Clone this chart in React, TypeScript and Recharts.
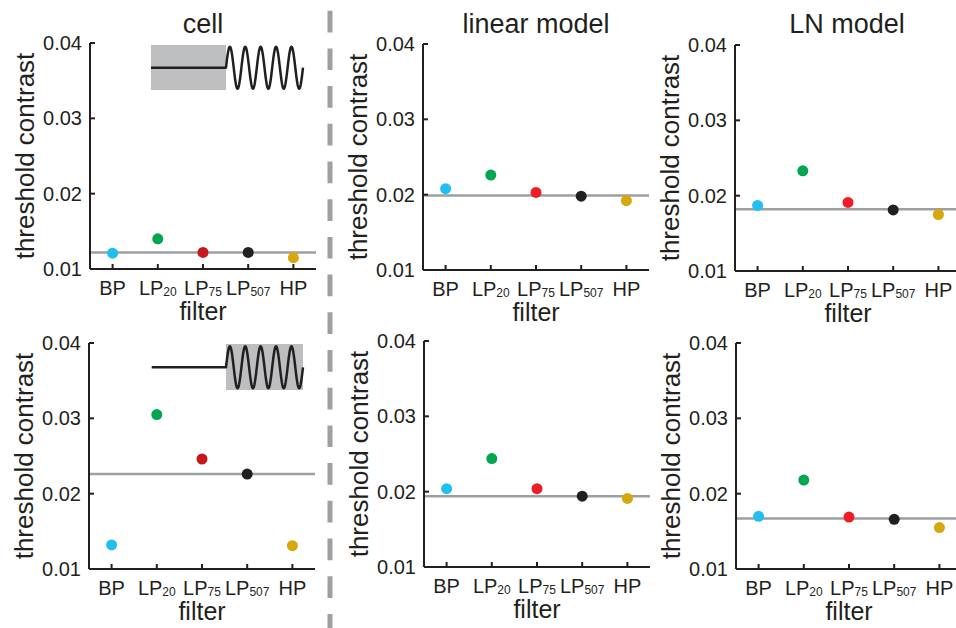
import React from 'react';
import { ComposedChart, Scatter, XAxis, YAxis, ReferenceLine } from 'recharts';

// filter conditions on the x axis
const FILTERS = ['BP', 'LP20', 'LP75', 'LP507', 'HP'];
const Y_TICKS = [0.01, 0.02, 0.03, 0.04];

// top row: stimulus step into the grating (contrast up)
const CELL_TOP = [0.0121, 0.014, 0.0122, 0.0122, 0.0115];
const LINEAR_TOP = [0.0208, 0.0226, 0.0203, 0.0198, 0.0192];
const LN_TOP = [0.0187, 0.0233, 0.0191, 0.0181, 0.0175];
const CELL_TOP_REF = 0.0122;
const LINEAR_TOP_REF = 0.0199;
const LN_TOP_REF = 0.0182;

// bottom row: grating after the gray period
const CELL_BOTTOM = [0.0132, 0.0305, 0.0246, 0.0226, 0.0131];
const LINEAR_BOTTOM = [0.0204, 0.0244, 0.0204, 0.0194, 0.0191];
const LN_BOTTOM = [0.017, 0.0218, 0.0169, 0.0166, 0.0155];
const CELL_BOTTOM_REF = 0.0226;
const LINEAR_BOTTOM_REF = 0.0194;
const LN_BOTTOM_REF = 0.0167;

const CELL_COLORS = ['#1fbff0', '#00a651', '#c8161e', '#231f20', '#d6a80c'];
const MODEL_COLORS = ['#1fbff0', '#00a651', '#ee1c25', '#231f20', '#d6a80c'];

const INK = '#231f20';
const GRAY_LINE = '#9d9fa2';
const FONT = "'Liberation Sans', Arial, Helvetica, sans-serif";
const PLOT = 226;
const HALF_BAND = PLOT / FILTERS.length / 2;
const Y_AXIS_W = 90;
const X_AXIS_H = 56;
const TOP_PAD = 10;

const XTick = ({ x, y, payload }: any) => {
  const m = String(payload.value).match(/^([A-Z]+)(\d*)$/);
  const base = m ? m[1] : payload.value;
  const sub = m ? m[2] : '';
  return (
    <g>
      <line x1={x} x2={x} y1={y} y2={y - 5} stroke={INK} strokeWidth={2} />
      <text x={x} y={y + 26} textAnchor="middle" fontSize={20} fill={INK}>
        {base}
        {sub ? <tspan fontSize={12} dy={1}>{sub}</tspan> : null}
      </text>
    </g>
  );
};

const YTick = ({ x, y, payload }: any) => (
  <g>
    <line x1={x} x2={x + 5} y1={y} y2={y} stroke={INK} strokeWidth={2} />
    <text x={x - 8} y={y + 7} textAnchor="end" fontSize={20} fill={INK}>
      {Number(payload.value).toFixed(2)}
    </text>
  </g>
);

interface PanelProps {
  plotX: number;
  plotY: number;
  values: number[];
  refValue: number;
  colors: string[];
}

const Panel: React.FC<PanelProps> = ({ plotX, plotY, values, refValue, colors }) => {
  const rows = FILTERS.map((f, i) => ({ filter: f, value: values[i] }));
  return (
    <div style={{ position: 'absolute', left: plotX - Y_AXIS_W, top: plotY - TOP_PAD }}>
      <ComposedChart
        width={Y_AXIS_W + PLOT}
        height={TOP_PAD + PLOT + X_AXIS_H}
        data={rows}
        margin={{ top: TOP_PAD, right: 0, bottom: 0, left: 0 }}
      >
        <XAxis
          dataKey="filter"
          type="category"
          interval={0}
          height={X_AXIS_H}
          padding={{ left: HALF_BAND, right: HALF_BAND }}
          tickSize={0}
          tickMargin={0}
          tickLine={false}
          axisLine={{ stroke: INK, strokeWidth: 2 }}
          tick={<XTick />}
          label={{ value: 'filter', position: 'insideBottom', offset: 5, fontSize: 25, fill: INK }}
        />
        <YAxis
          type="number"
          domain={[0.01, 0.04]}
          ticks={Y_TICKS}
          interval={0}
          width={Y_AXIS_W}
          tickSize={0}
          tickMargin={0}
          tickLine={false}
          axisLine={{ stroke: INK, strokeWidth: 2 }}
          tick={<YTick />}
          allowDataOverflow
          label={{
            value: 'threshold contrast',
            angle: -90,
            position: 'insideLeft',
            offset: 25,
            fontSize: 26,
            fill: INK,
            style: { textAnchor: 'middle' },
          }}
        />
        <ReferenceLine y={refValue} stroke={GRAY_LINE} strokeWidth={2.5} />
        <Scatter
          dataKey="value"
          isAnimationActive={false}
          shape={(p: any) => (
            <circle cx={p.cx} cy={p.cy} r={5.5} fill={colors[FILTERS.indexOf(p.payload.filter)]} />
          )}
        />
      </ComposedChart>
    </div>
  );
};

// little stimulus sketches in the cell panels
const sinePath = (x0: number, x1: number, cy: number, amp: number, cycles: number) => {
  const pts: string[] = [];
  const n = 200;
  for (let i = 0; i <= n; i++) {
    const t = i / n;
    const x = x0 + t * (x1 - x0);
    const y = cy - amp * Math.sin(2 * Math.PI * cycles * t);
    pts.push(`L${x.toFixed(2)},${y.toFixed(2)}`);
  }
  return pts.join(' ');
};

const Overlay = () => (
  <svg
    width={956}
    height={628}
    style={{ position: 'absolute', left: 0, top: 0, pointerEvents: 'none' }}
  >
    <line x1={330} x2={330} y1={10.7} y2={628} stroke={GRAY_LINE} strokeWidth={5} strokeDasharray="21.7 16" />

    <text x={203} y={33} textAnchor="middle" fontSize={27} fill={INK}>cell</text>
    <text x={536} y={33} textAnchor="middle" fontSize={27} fill={INK}>linear model</text>
    <text x={847} y={33} textAnchor="middle" fontSize={27} fill={INK}>LN model</text>

    {/* top inset: gray period then grating */}
    <rect x={151} y={45} width={75} height={45} fill="#bcbec0" />
    <path
      d={`M151,67.7 L226,67.7 ${sinePath(226, 303, 67.7, 21, 5)}`}
      fill="none"
      stroke={INK}
      strokeWidth={2.5}
      strokeLinejoin="round"
    />

    {/* bottom inset: grating in a gray window */}
    <rect x={226} y={344} width={77} height={46} fill="#bcbec0" />
    <path
      d={`M151.7,367.3 L226,367.3 ${sinePath(226, 303, 367.3, 21, 5)}`}
      fill="none"
      stroke={INK}
      strokeWidth={2.5}
      strokeLinejoin="round"
    />
  </svg>
);

export default function App() {
  return (
    <div
      style={{
        position: 'absolute',
        left: 0,
        top: 0,
        width: 956,
        height: 628,
        overflow: 'hidden',
        background: '#fff',
        fontFamily: FONT,
      }}
    >
      <Panel plotX={90} plotY={43} values={CELL_TOP} refValue={CELL_TOP_REF} colors={CELL_COLORS} />
      <Panel plotX={423} plotY={44} values={LINEAR_TOP} refValue={LINEAR_TOP_REF} colors={MODEL_COLORS} />
      <Panel plotX={734.5} plotY={45} values={LN_TOP} refValue={LN_TOP_REF} colors={MODEL_COLORS} />
      <Panel plotX={88.5} plotY={343} values={CELL_BOTTOM} refValue={CELL_BOTTOM_REF} colors={CELL_COLORS} />
      <Panel plotX={424} plotY={341} values={LINEAR_BOTTOM} refValue={LINEAR_BOTTOM_REF} colors={MODEL_COLORS} />
      <Panel plotX={735.5} plotY={342.5} values={LN_BOTTOM} refValue={LN_BOTTOM_REF} colors={MODEL_COLORS} />
      <Overlay />
    </div>
  );
}
